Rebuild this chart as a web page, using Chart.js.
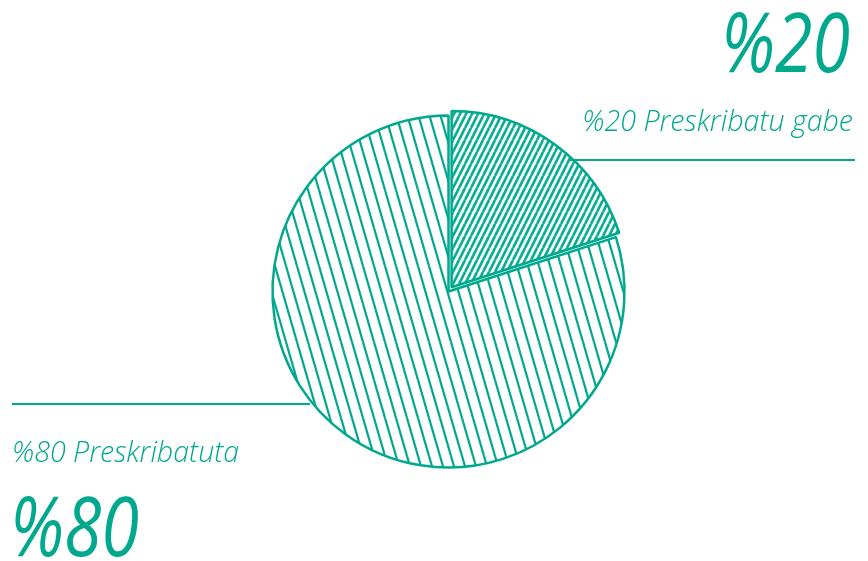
<!DOCTYPE html>
<html>
<head>
<meta charset="utf-8">
<title>Preskribatze-tasa</title>
<script src="https://cdn.jsdelivr.net/npm/chart.js@4"></script>
<style>
  html, body { margin: 0; padding: 0; background: #ffffff; }
  #wrap { width: 868px; height: 561px; }
</style>
</head>
<body>
<div id="wrap"><canvas id="pie" width="868" height="561"></canvas></div>
<script>
// Shares of the two groups, in percent
const categories = ['Preskribatu gabe', 'Preskribatuta'];
const shares = [20, 80];

const TEAL = '#00a88e';

// Diagonal line fill: one line per tile, tiles repeat seamlessly
function hatch(period, rise, lineWidth, forward) {
  const tile = document.createElement('canvas');
  tile.width = period;
  tile.height = rise;
  const g = tile.getContext('2d');
  g.strokeStyle = TEAL;
  g.lineWidth = lineWidth;
  g.beginPath();
  for (let k = -1; k <= 1; k++) {
    if (forward) {
      g.moveTo(k * period, rise);
      g.lineTo((k + 1) * period, 0);
    } else {
      g.moveTo(k * period, 0);
      g.lineTo((k + 1) * period, rise);
    }
  }
  g.stroke();
  return g.createPattern(tile, 'repeat');
}

const ctx = document.getElementById('pie').getContext('2d');
const fills = [hatch(6, 12, 2.6, true), hatch(11, 38, 2.2, false)];

// Headline numbers, captions and leader lines around the pie
const annotations = {
  id: 'annotations',
  afterDraw(chart) {
    const c = chart.ctx;
    c.save();
    c.fillStyle = TEAL;
    c.strokeStyle = TEAL;
    c.lineWidth = 2;

    // leader lines
    c.beginPath();
    c.moveTo(570, 160); c.lineTo(855, 160);
    c.moveTo(12, 404); c.lineTo(310, 404);
    c.stroke();

    // captions
    c.font = 'italic 300 28.6px "Open Sans"';
    c.textBaseline = 'alphabetic';
    c.textAlign = 'right';
    c.fillText('%' + shares[0] + ' ' + categories[0], 853, 131);
    c.textAlign = 'left';
    c.fillText('%' + shares[1] + ' ' + categories[1], 12, 462);

    // headline figures, set narrow
    c.font = 'italic 500 82px "Open Sans"';
    const sx = 0.83;
    c.save();
    c.scale(sx, 1);
    c.textAlign = 'right';
    c.fillText('%' + shares[0], 850 / sx, 72);
    c.textAlign = 'left';
    c.fillText('%' + shares[1], 10 / sx, 556);
    c.restore();

    c.restore();
  }
};

new Chart(ctx, {
  type: 'pie',
  data: {
    labels: categories,
    datasets: [{
      data: shares,
      backgroundColor: fills,
      borderColor: TEAL,
      borderWidth: 2.5,
      borderJoinStyle: 'bevel',
      offset: [21, 0]
    }]
  },
  options: {
    responsive: false,
    animation: false,
    events: [],
    radius: 176,
    layout: { padding: { left: 29, top: 22, right: 0, bottom: 0 } },
    plugins: {
      legend: { display: false },
      tooltip: { enabled: false }
    }
  },
  plugins: [annotations]
});
</script>
</body>
</html>
